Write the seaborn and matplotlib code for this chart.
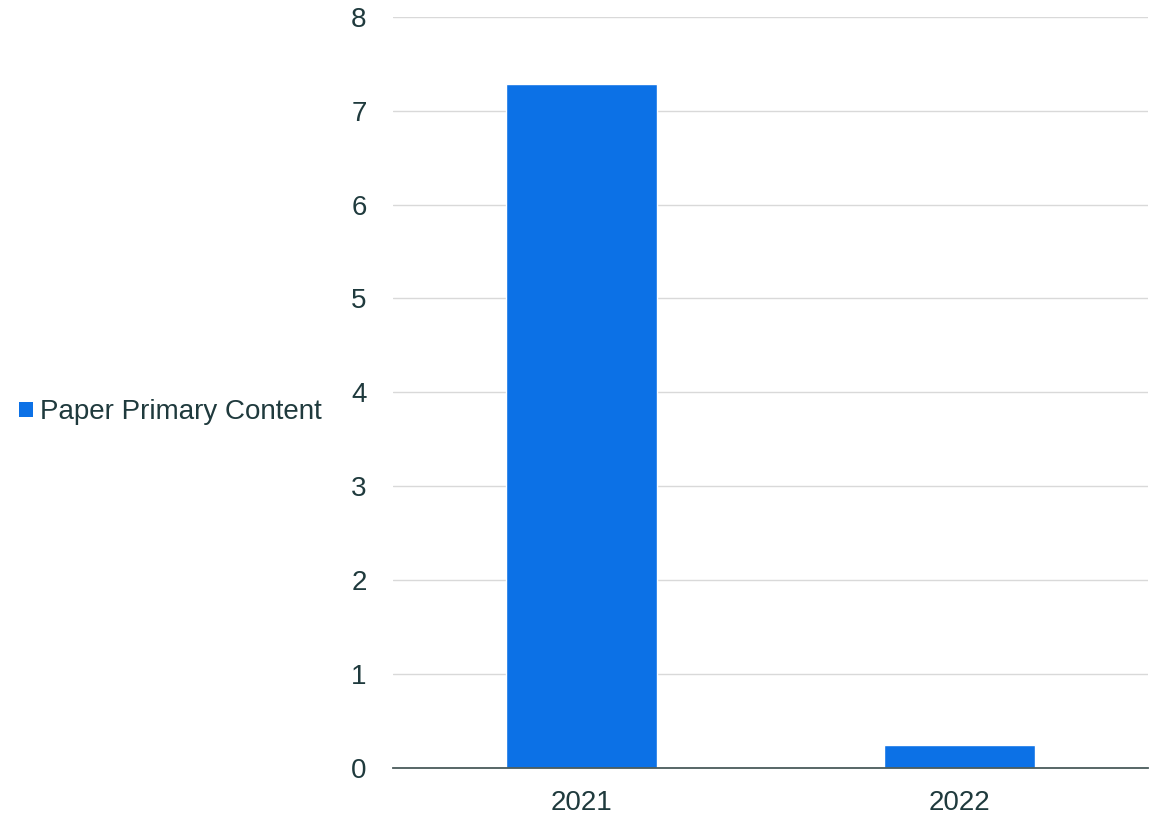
import matplotlib
matplotlib.use("Agg")
import matplotlib.pyplot as plt
import seaborn as sns
import pandas as pd
from matplotlib.patches import Patch

years = ["2021", "2022"]
values = [7.28, 0.24]
series_name = "Paper Primary Content"
y_ticks = [0, 1, 2, 3, 4, 5, 6, 7, 8]

bar_color = "#0C71E6"
text_color = "#1F3A3D"
grid_color = "#D9D9D9"
axis_color = "#4A5B5B"

sns.set_theme(style="white")
plt.rcParams["font.family"] = ["Liberation Sans", "DejaVu Sans"]

df = pd.DataFrame({"year": years, "value": values})

fig = plt.figure(figsize=(11.65, 8.15), dpi=100)
ax = fig.add_axes([0.3373, 0.0577, 0.648, 0.9218])

sns.barplot(data=df, x="year", y="value", color=bar_color, width=0.4,
            saturation=1, ax=ax, zorder=3)

ax.set_ylim(0, 8)
ax.set_yticks(y_ticks)
ax.set_yticklabels([str(t) for t in y_ticks])
ax.set_xlabel("")
ax.set_ylabel("")
ax.yaxis.grid(True, color=grid_color, linewidth=1, zorder=0)
ax.xaxis.grid(False)
for side in ["left", "right", "top"]:
    ax.spines[side].set_visible(False)
ax.spines["bottom"].set_color(axis_color)
ax.spines["bottom"].set_linewidth(1.3)
ax.spines["bottom"].set_zorder(4)
ax.tick_params(axis="y", length=0, pad=19, labelsize=20, labelcolor=text_color)
ax.tick_params(axis="x", length=0, pad=16, labelsize=20, labelcolor=text_color)

handle = Patch(facecolor=bar_color, edgecolor="none")
fig.legend([handle], [series_name], loc="center left",
           bbox_to_anchor=(0.0, 0.494), frameon=False, fontsize=20,
           handlelength=0.5, handleheight=0.5, handletextpad=0.25,
           borderpad=0.2, labelcolor=text_color)

fig.savefig("out.png", dpi=100)
